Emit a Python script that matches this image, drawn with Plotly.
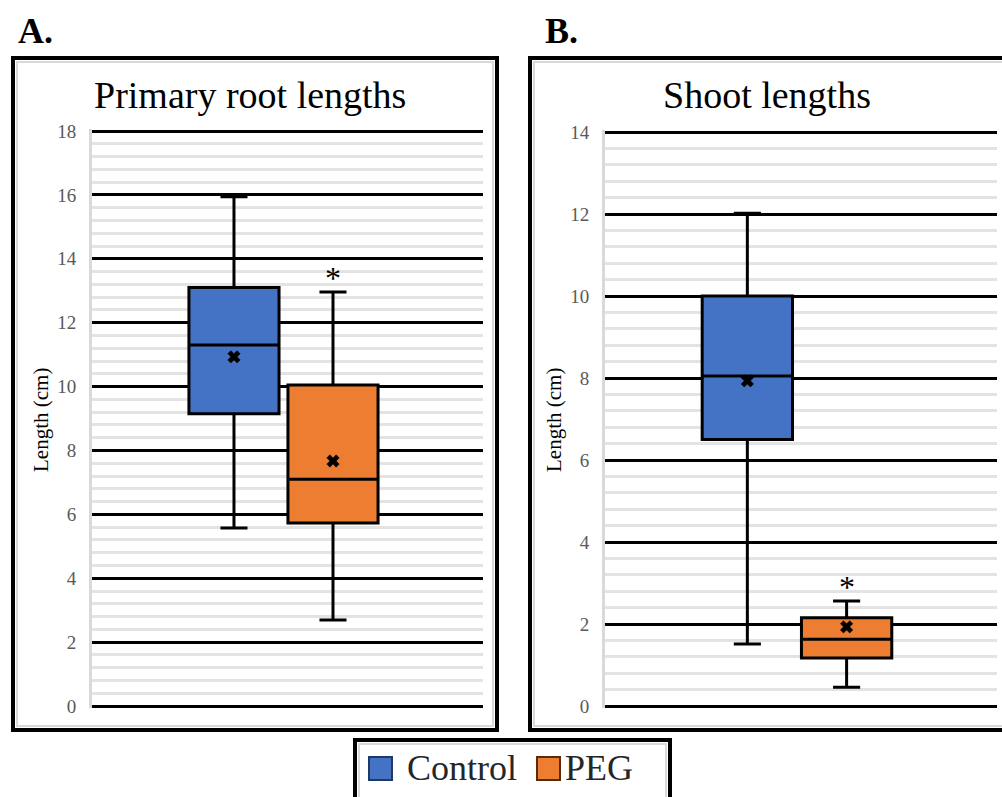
import plotly.graph_objects as go

# ---------------- data ----------------
groups = ["Control", "PEG"]
colors = ["#4472C4", "#ED7D31"]
legend_edge = ["#1F3864", "#5A2A0A"]

root_q1 = [9.15, 5.73]
root_median = [11.30, 7.10]
root_q3 = [13.10, 10.05]
root_lower = [5.57, 2.69]
root_upper = [15.94, 12.96]
root_mean = [10.93, 7.67]

shoot_q1 = [6.50, 1.17]
shoot_median = [8.05, 1.63]
shoot_q3 = [10.00, 2.15]
shoot_lower = [1.51, 0.46]
shoot_upper = [12.02, 2.56]
shoot_mean = [7.93, 1.93]

significant = [False, True]  # asterisk above PEG in both panels

root_ticks = [0, 2, 4, 6, 8, 10, 12, 14, 16, 18]
shoot_ticks = [0, 2, 4, 6, 8, 10, 12, 14]

titles = ["Primary root lengths", "Shoot lengths"]
panel_labels = ["A.", "B."]
y_title = "Length (cm)"

# ---------------- layout helpers ----------------
W, H = 1002, 797
SERIF = "Liberation Serif"


def px(x):
    return x / W


def py(y):
    return 1 - y / H


fig = go.Figure()

panels = [
    dict(xa="x", ya="y", q1=root_q1, med=root_median, q3=root_q3,
         lo=root_lower, hi=root_upper, mean=root_mean),
    dict(xa="x2", ya="y2", q1=shoot_q1, med=shoot_median, q3=shoot_q3,
         lo=shoot_lower, hi=shoot_upper, mean=shoot_mean),
]

annotations = []
for p in panels:
    for i, g in enumerate(groups):
        fig.add_trace(go.Box(
            x=[g], q1=[p["q1"][i]], median=[p["med"][i]], q3=[p["q3"][i]],
            lowerfence=[p["lo"][i]], upperfence=[p["hi"][i]],
            fillcolor=colors[i], line=dict(color="black", width=3),
            width=0.91, whiskerwidth=0.3, boxpoints=False, showlegend=False,
            hoverinfo="skip", xaxis=p["xa"], yaxis=p["ya"], name=g,
        ))
    fig.add_trace(go.Scatter(
        x=groups, y=p["mean"], mode="markers",
        marker=dict(symbol="x", size=11, color="black",
                    line=dict(width=0.5, color="black")),
        showlegend=False, hoverinfo="skip", xaxis=p["xa"], yaxis=p["ya"],
    ))
    for i, g in enumerate(groups):
        if significant[i]:
            annotations.append(dict(
                x=g, y=p["hi"][i], xref=p["xa"], yref=p["ya"], text="*",
                showarrow=False, yanchor="bottom", yshift=-6,
                font=dict(family=SERIF, size=32, color="black"),
            ))

# titles, panel labels, axis titles
annotations += [
    dict(x=px(250), y=py(95), xref="paper", yref="paper", text=titles[0],
         showarrow=False, xanchor="center", yanchor="middle",
         font=dict(family=SERIF, size=38, color="black")),
    dict(x=px(767), y=py(95), xref="paper", yref="paper", text=titles[1],
         showarrow=False, xanchor="center", yanchor="middle",
         font=dict(family=SERIF, size=38, color="black")),
    dict(x=px(16), y=py(31), xref="paper", yref="paper", text="<b>%s</b>" % panel_labels[0],
         showarrow=False, xanchor="left", yanchor="middle",
         font=dict(family=SERIF, size=36, color="black")),
    dict(x=px(543), y=py(31), xref="paper", yref="paper", text="<b>%s</b>" % panel_labels[1],
         showarrow=False, xanchor="left", yanchor="middle",
         font=dict(family=SERIF, size=36, color="black")),
    dict(x=px(41), y=py(420), xref="paper", yref="paper", text=y_title, textangle=-90,
         showarrow=False, xanchor="center", yanchor="middle",
         font=dict(family=SERIF, size=21, color="black")),
    dict(x=px(554), y=py(420), xref="paper", yref="paper", text=y_title, textangle=-90,
         showarrow=False, xanchor="center", yanchor="middle",
         font=dict(family=SERIF, size=21, color="black")),
]

# manual legend
legend_items = [(369, 405), (537, 563)]
shapes = []
for i, g in enumerate(groups):
    sx, tx = legend_items[i]
    shapes.append(dict(type="rect", xref="paper", yref="paper",
                       x0=px(sx), x1=px(sx + 23), y0=py(780), y1=py(757),
                       fillcolor=colors[i], line=dict(color=legend_edge[i], width=2)))
    annotations.append(dict(x=px(tx), y=py(768), xref="paper", yref="paper", text=g,
                            showarrow=False, xanchor="left", yanchor="middle",
                            font=dict(family=SERIF, size=36, color="#262626")))

# frames
frames = [(13, 58, 497, 730), (530, 58, 1015, 730), (355, 740, 670, 830)]
for (x0, y0, x1, y1) in frames:
    shapes.append(dict(type="rect", xref="paper", yref="paper",
                       x0=px(x0 + 4), x1=px(x1 - 4), y0=py(y1 - 4), y1=py(y0 + 4),
                       line=dict(color="#d9d9d9", width=2), layer="below"))
    shapes.append(dict(type="rect", xref="paper", yref="paper",
                       x0=px(x0), x1=px(x1), y0=py(y1), y1=py(y0),
                       line=dict(color="black", width=4)))


def yax(top_px, bot_px, vmax, ticks):
    # extend range by 2px on each side so the 0 and max gridlines are drawn
    ppu = (bot_px - top_px) / vmax
    e = 2 / ppu
    return dict(
        domain=[py(bot_px + 2), py(top_px - 2)], range=[-e, vmax + e], tickvals=ticks,
        showgrid=True, gridcolor="black", gridwidth=3,
        minor=dict(dtick=0.4, tick0=0, showgrid=True, gridcolor="#e3e3e3", gridwidth=3),
        showline=True, linecolor="#d9d9d9", linewidth=3, zeroline=False,
        ticks="", ticklabelstandoff=9,
        tickfont=dict(family=SERIF, size=19, color="#595959"),
        automargin=False,
    )


def xax(domain):
    return dict(domain=domain, range=[-1.434, 2.515], showgrid=False, zeroline=False,
                showline=False, showticklabels=False, ticks="", automargin=False,
                categoryorder="array", categoryarray=groups)


fig.update_layout(
    width=W, height=H, margin=dict(l=0, r=0, t=0, b=0, autoexpand=False),
    paper_bgcolor="white", plot_bgcolor="white",
    boxmode="overlay",
    xaxis=dict(xax([px(92), px(483)]), anchor="y"),
    xaxis2=dict(xax([px(605), px(997)]), anchor="y2"),
    yaxis=dict(yax(131, 706, 18, root_ticks), anchor="x"),
    yaxis2=dict(yax(132, 706, 14, shoot_ticks), anchor="x2"),
    shapes=shapes, annotations=annotations, showlegend=False,
)

fig.write_html("out.html")
